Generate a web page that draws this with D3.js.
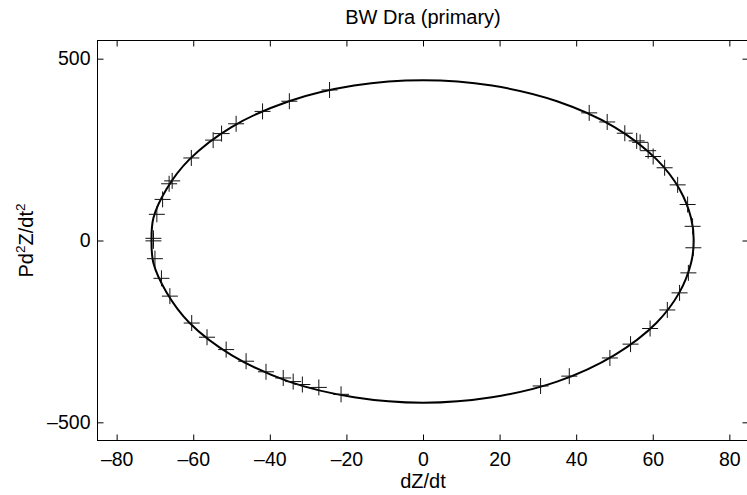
<!DOCTYPE html>
<html>
<head>
<meta charset="utf-8">
<script src="https://cdn.jsdelivr.net/npm/d3@7"></script>
<style>
  html, body { margin: 0; padding: 0; background: #fff; }
  svg { display: block; font-family: "Liberation Sans", Arial, Helvetica, sans-serif; }
</style>
</head>
<body>
<svg id="chart" width="747" height="495"></svg>
<script>
// Phase portrait of BW Dra (primary): first derivative vs. scaled second derivative.
const title = "BW Dra (primary)";
const xTicks = [-80, -60, -40, -20, 0, 20, 40, 60, 80];
const yTicks = [-500, 0, 500];
const xDomain = [-85, 85];
const yDomain = [-550, 550];

// Smooth fitted curve (dZ/dt, P d²Z/dt²), closed loop
const fitX = [0, 18, 35, 50, 61, 67, 70, 70.7, 70, 67, 61, 50, 35, 18,
              0, -18, -35, -50, -61, -67, -70.4, -70.9, -70.4, -67, -61, -50, -35, -18];
const fitY = [441, 426, 383, 312, 223, 141, 62, 0, -62, -142, -226, -315, -388, -431,
              -446, -431, -388, -315, -226, -142, -62, 0, 62, 141, 223, 312, 383, 426];

// Observed points
const obsX = [-24.4, -34.9, -41.9, -48.8, -52.6, -54.8, -60.5, -65.5, -66.3, -68.0, -69.5,
              -70.4, -70.4, -70.0, -68.3, -66.1, -60.4, -56.4, -51.4, -46.2, -41.0, -36.5,
              -33.9, -31.5, -27.2, -21.4, 30.7, 38.2, 48.8, 54.2, 59.3, 63.8, 67.0, 69.3,
              70.6, 70.4, 69.1, 66.5, 63.1, 58.8, 60.1, 55.8, 56.7, 52.7, 48.1, 43.4];
const obsY = [414, 383, 355, 321, 294, 276, 227, 164, 156, 113, 72,
              6, -1, -50, -104, -153, -227, -266, -300, -332, -361, -378,
              -388, -396, -404, -423, -400, -373, -323, -285, -242, -191, -144, -89,
              -20, 39, 99, 153, 200, 247, 231, 274, 270, 295, 326, 351];

const svg = d3.select("#chart");
const tickFont = 19.5;
const labelFont = 20;
const plotL = 97.5, plotR = 748.5, plotT = 40.5, plotB = 440.5;

const x = d3.scaleLinear().domain(xDomain).range([plotL, plotR]);
const y = d3.scaleLinear().domain(yDomain).range([plotB, plotT]);

const fmt = d => (d < 0 ? "\u2013" + Math.abs(d) : String(d));

// Axes with inward ticks on all four sides
const gB = svg.append("g").attr("transform", `translate(0,${plotB})`)
  .call(d3.axisBottom(x).tickValues(xTicks).tickFormat(fmt).tickSizeInner(-6).tickSizeOuter(0).tickPadding(12));
const gT = svg.append("g").attr("transform", `translate(0,${plotT})`)
  .call(d3.axisTop(x).tickValues(xTicks).tickFormat("").tickSizeInner(-6).tickSizeOuter(0));
const gL = svg.append("g").attr("transform", `translate(${plotL},0)`)
  .call(d3.axisLeft(y).tickValues(yTicks).tickFormat(fmt).tickSizeInner(-6).tickSizeOuter(0).tickPadding(7));
const gR = svg.append("g").attr("transform", `translate(${plotR},0)`)
  .call(d3.axisRight(y).tickValues(yTicks).tickFormat("").tickSizeInner(-6).tickSizeOuter(0));

[gB, gT, gL, gR].forEach(g => {
  g.select(".domain").remove();
  g.selectAll(".tick line").attr("stroke", "#000");
  g.selectAll("text").attr("font-size", tickFont).attr("fill", "#000")
    .attr("font-family", "Liberation Sans, Arial, sans-serif");
});

// Frame
svg.append("rect")
  .attr("x", plotL).attr("y", plotT)
  .attr("width", plotR - plotL).attr("height", plotB - plotT)
  .attr("fill", "none").attr("stroke", "#000").attr("stroke-width", 1);

// Fitted curve
const fitPts = fitX.map((v, i) => [v, fitY[i]]);
svg.append("path")
  .datum(fitPts)
  .attr("fill", "none")
  .attr("stroke", "#000")
  .attr("stroke-width", 2)
  .attr("d", d3.line().x(d => x(d[0])).y(d => y(d[1])).curve(d3.curveCatmullRomClosed.alpha(0.5)));

// Plus markers
const obsPts = obsX.map((v, i) => [v, obsY[i]]);
const half = 8;
svg.append("g")
  .selectAll("path")
  .data(obsPts)
  .join("path")
  .attr("fill", "none")
  .attr("stroke", "#111")
  .attr("stroke-width", 1)
  .attr("d", d => {
    const cx = x(d[0]), cy = y(d[1]);
    return `M${cx - half},${cy}H${cx + half}M${cx},${cy - half}V${cy + half}`;
  });

// Title and axis labels
svg.append("text")
  .attr("x", (plotL + plotR) / 2).attr("y", 24)
  .attr("text-anchor", "middle").attr("font-size", labelFont)
  .text(title);

svg.append("text")
  .attr("x", (plotL + plotR) / 2).attr("y", 488)
  .attr("text-anchor", "middle").attr("font-size", labelFont)
  .text("dZ/dt");

const yl = svg.append("text")
  .attr("transform", `translate(33,${(plotT + plotB) / 2}) rotate(-90)`)
  .attr("text-anchor", "middle").attr("font-size", labelFont);
yl.append("tspan").text("Pd");
yl.append("tspan").attr("font-size", 13.5).attr("dy", -8).text("2");
yl.append("tspan").attr("dy", 8).text("Z/dt");
yl.append("tspan").attr("font-size", 13.5).attr("dy", -8).text("2");
</script>
</body>
</html>
